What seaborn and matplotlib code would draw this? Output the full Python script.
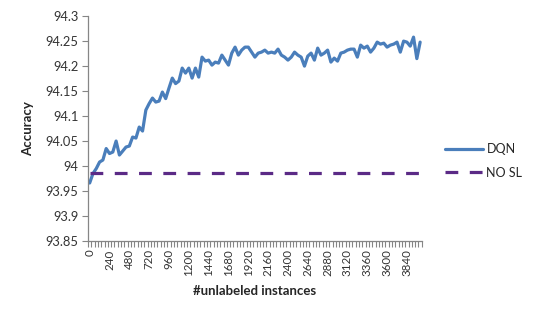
import numpy as np
import pandas as pd
import seaborn as sns
import matplotlib.pyplot as plt

# number of unlabeled instances (one category every 40)
n_unlabeled = list(range(0, 4001, 40))

# DQN accuracy
dqn_acc = [
    93.966, 93.985, 93.995, 94.008, 94.012, 94.035, 94.025, 94.028, 94.050, 94.022,
    94.030, 94.038, 94.040, 94.058, 94.056, 94.078, 94.070, 94.112, 94.125, 94.136,
    94.128, 94.130, 94.148, 94.135, 94.156, 94.176, 94.165, 94.170, 94.196, 94.186,
    94.196, 94.176, 94.196, 94.178, 94.218, 94.210, 94.212, 94.202, 94.208, 94.206,
    94.222, 94.212, 94.202, 94.226, 94.238, 94.222, 94.232, 94.238, 94.238, 94.228,
    94.218, 94.226, 94.228, 94.232, 94.226, 94.228, 94.226, 94.234, 94.222, 94.218,
    94.212, 94.218, 94.228, 94.222, 94.218, 94.200, 94.220, 94.226, 94.212, 94.236,
    94.222, 94.226, 94.232, 94.208, 94.216, 94.210, 94.226, 94.228, 94.232, 94.234,
    94.234, 94.218, 94.242, 94.236, 94.240, 94.228, 94.236, 94.248, 94.244, 94.246,
    94.238, 94.242, 94.244, 94.248, 94.228, 94.250, 94.248, 94.240, 94.258, 94.215,
    94.248,
]

# accuracy without self-learning (flat baseline)
nosl_acc = 93.987

series_names = ['DQN', 'NO SL']
line_colors = ['#4a7ebb', '#5b2a86']

y_ticks = [93.85, 93.9, 93.95, 94, 94.05, 94.1, 94.15, 94.2, 94.25, 94.3]
x_label_ticks = list(range(0, 3841, 240))

df = pd.concat([
    pd.DataFrame({'n': n_unlabeled, 'acc': dqn_acc, 'method': 'DQN'}),
    pd.DataFrame({'n': n_unlabeled, 'acc': nosl_acc, 'method': 'NO SL'}),
])

sns.set_style('white')
plt.rcParams['font.family'] = ['Lato', 'DejaVu Sans']

fig = plt.figure(figsize=(5.38, 3.23), dpi=100)
ax = fig.add_axes([0.1636, 0.254, 0.6204, 0.696])

sns.lineplot(data=df, x='n', y='acc', hue='method', style='method',
             hue_order=series_names, style_order=series_names,
             palette=dict(zip(series_names, line_colors)),
             dashes={'DQN': '', 'NO SL': (4, 3.6)},
             linewidth=2.3, ax=ax)

ax.set_xlim(-20, 4020)
ax.set_ylim(93.85, 94.3)

# y axis
ax.set_yticks(y_ticks)
ax.set_yticklabels([f'{v:g}' for v in y_ticks], fontsize=9.3, color='#333333')
ax.tick_params(axis='y', direction='out', length=4, width=0.8, color='#868686',
               left=True, pad=3)

# x axis: tick marks between categories, labels every 240
ax.set_xticks(x_label_ticks)
ax.set_xticklabels([str(v) for v in x_label_ticks], rotation=90, fontsize=8.3,
                   color='#333333')
ax.set_xticks(np.arange(-20, 4021, 40), minor=True)
ax.tick_params(axis='x', which='major', length=0, pad=6)
ax.tick_params(axis='x', which='minor', direction='out', length=4, width=0.8,
               color='#868686', bottom=True)

for side in ['top', 'right']:
    ax.spines[side].set_visible(False)
for side in ['left', 'bottom']:
    ax.spines[side].set_color('#868686')
    ax.spines[side].set_linewidth(0.9)

ax.set_xlabel('#unlabeled instances', fontsize=9.5, fontweight='bold', labelpad=6)
ax.set_ylabel('Accuracy', fontsize=9.5, fontweight='bold', labelpad=8)

sns.move_legend(ax, 'center left', bbox_to_anchor=(1.07, 0.356), frameon=False,
                title=None, fontsize=9, handlelength=3.0, handletextpad=0.3,
                labelspacing=0.9, borderpad=0, borderaxespad=0)

fig.savefig('out.png', dpi=100)
